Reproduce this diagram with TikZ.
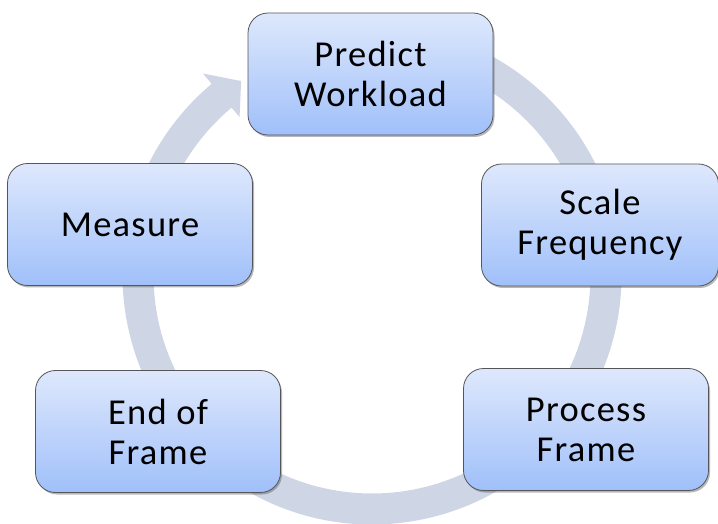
\documentclass[tikz,border=0pt]{standalone}
\usepackage{fontspec}
\setmainfont[LetterSpace=3.5]{Carlito}
\usetikzlibrary{shadows}
\definecolor{bandgray}{RGB}{206,213,228}
\definecolor{boxtop}{RGB}{222,232,252}
\definecolor{boxbot}{RGB}{160,192,250}
\definecolor{boxedge}{RGB}{85,85,90}
\begin{document}
\begin{tikzpicture}[x=1pt,y=1pt,
  stage/.style={rectangle, rounded corners=20pt, draw=boxedge, line width=0.8pt,
    top color=boxtop, bottom color=boxbot,
    minimum width=245pt, minimum height=122pt, inner sep=0pt,
    align=center, font=\fontsize{36.5}{40}\selectfont,
    drop shadow={shadow xshift=1.5pt, shadow yshift=-2pt, opacity=0.4, fill=black!70}},
  cyclearrow/.style={fill=bandgray}]
\useasboundingbox (0,0) rectangle (718,523);

% circular arrow running clockwise behind the stages
\begin{scope}[shift={(372,248)}]
  \fill[cyclearrow] (100:249.5) arc[start angle=100, end angle=-230, radius=249.5]
    -- (130:263) -- (124:234) -- (130:206) -- (130:218.5)
    arc[start angle=-230, end angle=100, radius=218.5] -- cycle;
\end{scope}

% the five stages of the loop
\node[stage] (predict) at (370.5,449) {Predict\\Workload};
\node[stage, minimum width=237pt] (scale) at (600,298) {Scale\\Frequency};
\node[stage] (process) at (586,93.5) {Process\\Frame};
\node[stage] (end) at (158,91.5) {End of\\Frame};
\node[stage] (measure) at (130,298.5) {Measure};
\end{tikzpicture}
\end{document}
